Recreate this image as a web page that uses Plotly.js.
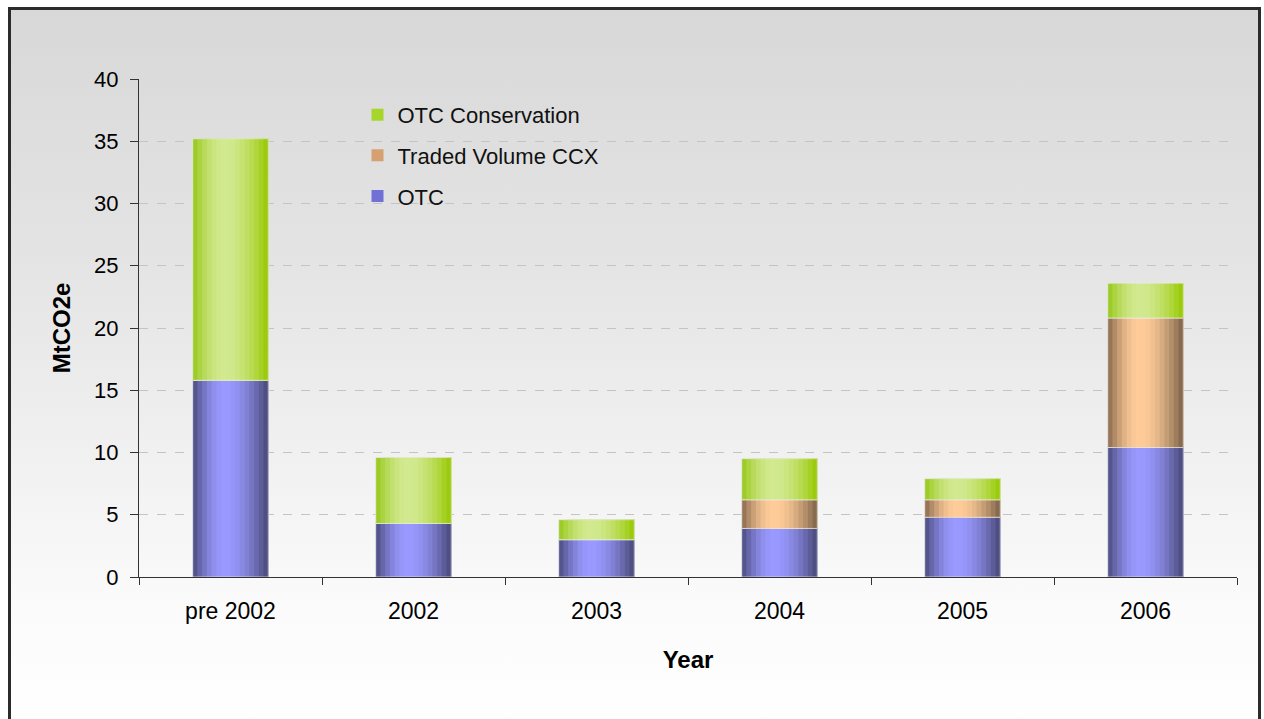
<!DOCTYPE html>
<html>
<head>
<meta charset="utf-8">
<script src="https://cdn.plot.ly/plotly-3.0.1.min.js"></script>
<style>
  html, body { margin: 0; padding: 0; width: 1264px; height: 719px; overflow: hidden; background: #ffffff; }
  #frame { position: absolute; left: 8px; top: 7px; width: 1247px; height: 780px;
           border: 3px solid #2b2b2b;
           background: linear-gradient(to bottom, #d8d8d8 0px, #e4e4e4 250px, #f1f1f1 450px, #fbfbfb 600px, #ffffff 720px); }
  #chart { position: absolute; left: 0; top: 0; width: 1264px; height: 719px; }
</style>
</head>
<body>
<div id="frame"></div>
<div id="chart"></div>
<script>
// ---- data ----
const categories = ['pre 2002', '2002', '2003', '2004', '2005', '2006'];
const otc        = [15.8, 4.3, 3.0, 3.9, 4.8, 10.4];
const ccx        = [0.0, 0.0, 0.0, 2.3, 1.4, 10.4];
const conservation = [19.4, 5.3, 1.6, 3.3, 1.7, 2.8];
const seriesNames = ['OTC', 'Traded Volume CCX', 'OTC Conservation'];
const yTicks = [0, 5, 10, 15, 20, 25, 30, 35, 40];

// ---- styling ----
const seriesValues = [otc, ccx, conservation];
const palettes = [
  { left: [76, 76, 126],  mid: [153, 153, 255], right: [72, 72, 118],  legend: 'rgb(112,112,214)' },
  { left: [138, 106, 78], mid: [255, 204, 153], right: [124, 98, 72],  legend: 'rgb(214,160,112)' },
  { left: [150, 200, 26], mid: [210, 233, 143], right: [150, 200, 0],  legend: 'rgb(166,214,42)' }
];
const barW = 0.413;
const N = 16;

function mix(a, b, m) {
  return 'rgb(' + a.map((v, i) => Math.round(v + (b[i] - v) * m)).join(',') + ')';
}
function stripColor(p, t) {
  const peak = 0.42;
  if (t <= peak) {
    const m = Math.sin((t / peak) * Math.PI / 2);
    return mix(p.left, p.mid, m);
  } else {
    const m = Math.sin(((1 - t) / (1 - peak)) * Math.PI / 2);
    return mix(p.right, p.mid, m);
  }
}

const traces = [];
// legend entries first, top to bottom: OTC Conservation, Traded Volume CCX, OTC
[2, 1, 0].forEach(s => {
  traces.push({
    type: 'bar', x: [categories[0]], y: [0], base: [0],
    marker: { color: palettes[s].legend, line: { width: 0 } },
    name: seriesNames[s], legendgroup: 'g' + s,
    showlegend: true, hoverinfo: 'skip', width: 0.0001
  });
});

let base = categories.map(() => 0);
seriesValues.forEach((vals, s) => {
  const p = palettes[s];
  const b = base.slice();
  for (let k = 0; k < N; k++) {
    const t = (k + 0.5) / N;
    traces.push({
      type: 'bar', x: categories, y: vals, base: b,
      offset: -barW / 2 + k * barW / N,
      width: barW - k * barW / N,
      marker: { color: stripColor(p, t), line: { width: 0 } },
      name: seriesNames[s], legendgroup: 'g' + s,
      showlegend: false, hoverinfo: 'skip'
    });
  }
  // outline
  traces.push({
    type: 'bar', x: categories, y: vals, base: b,
    offset: -barW / 2, width: barW,
    marker: { color: 'rgba(0,0,0,0)', line: { width: 1, color: 'rgba(235,235,235,0.7)' } },
    name: seriesNames[s], legendgroup: 'g' + s,
    showlegend: false, hoverinfo: 'skip'
  });
  base = base.map((v, i) => v + vals[i]);
});

const layout = {
  width: 1264, height: 719,
  paper_bgcolor: 'rgba(0,0,0,0)',
  plot_bgcolor: 'rgba(0,0,0,0)',
  margin: { l: 139, r: 27, t: 79, b: 142 },
  barmode: 'overlay',
  font: { family: 'Liberation Sans, Arial, sans-serif', size: 22, color: '#000' },
  showlegend: true,
  legend: {
    x: 0.199, y: 0.970, xanchor: 'left', yanchor: 'top',
    bgcolor: 'rgba(0,0,0,0)',
    traceorder: 'grouped', tracegroupgap: 9,
    font: { size: 22, color: '#111' }
  },
  xaxis: {
    type: 'category',
    tickson: 'boundaries',
    ticks: 'outside', ticklen: 7, tickcolor: '#333', tickwidth: 1,
    ticklabelstandoff: 13,
    showline: true, linecolor: '#333', linewidth: 1,
    showgrid: false,
    tickfont: { size: 23, color: '#000' },
    title: { text: '<b>Year</b>', font: { size: 24, color: '#000' }, standoff: 28 },
    fixedrange: true
  },
  yaxis: {
    range: [0, 40],
    tickvals: yTicks,
    ticktext: yTicks.map(String),
    ticks: 'outside', ticklen: 8, tickcolor: '#333', tickwidth: 1,
    ticklabelstandoff: 7,
    showline: true, linecolor: '#333', linewidth: 1,
    showgrid: true, gridcolor: '#c4c4c4', griddash: 'dash', gridwidth: 1,
    zeroline: false,
    tickfont: { size: 22, color: '#000' },
    title: { text: '<b>MtCO2e</b>', font: { size: 24, color: '#000' }, standoff: 16 },
    fixedrange: true
  }
};

Plotly.newPlot('chart', traces, layout, { displayModeBar: false, staticPlot: true });
</script>
</body>
</html>
